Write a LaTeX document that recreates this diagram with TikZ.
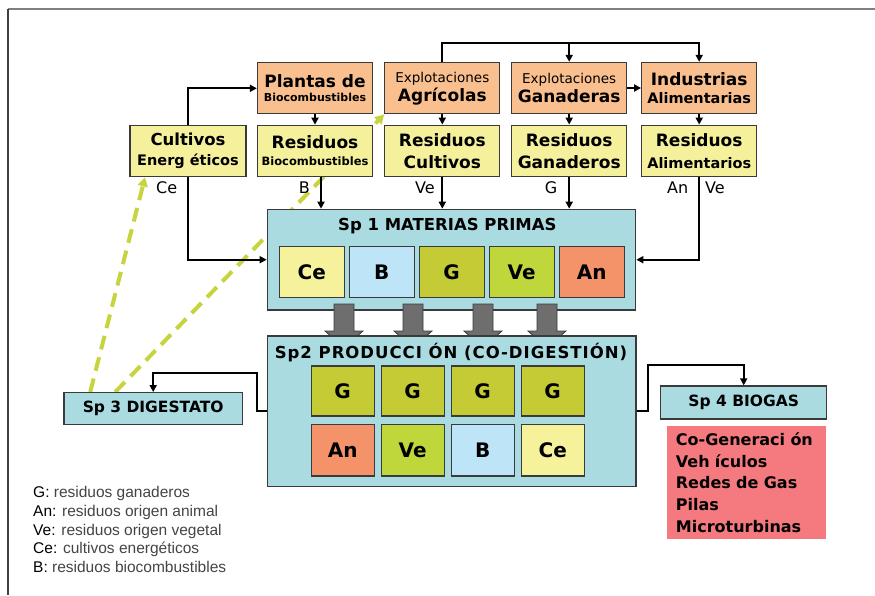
\documentclass[tikz,border=0pt]{standalone}
\usepackage{fontspec}
\setmainfont{DejaVu Sans}
\newfontfamily\legendfont{Liberation Sans}
\usetikzlibrary{arrows.meta,backgrounds}
\newcommand\fsz[1]{\fontsize{#1}{#1}\selectfont}
\definecolor{peach}{HTML}{F9BF8E}
\definecolor{resyellow}{HTML}{F5F09C}
\definecolor{stagecyan}{HTML}{A9DBE1}
\definecolor{boxline}{HTML}{3A3A3A}
\definecolor{cellce}{HTML}{F6F19B}
\definecolor{cellb}{HTML}{BEE4F7}
\definecolor{cellg}{HTML}{C4CB34}
\definecolor{cellve}{HTML}{BFD73A}
\definecolor{cellan}{HTML}{F4936A}
\definecolor{usesred}{HTML}{F47A7F}
\definecolor{dashgreen}{HTML}{C8D43E}
\definecolor{blockgray}{HTML}{6E6E6E}
\definecolor{legendgray}{HTML}{444444}
\begin{document}
\begin{tikzpicture}[x=1pt, y=-1pt,
  box/.style={draw=boxline, line width=1.3pt, inner sep=0pt, align=center,
    font=\bfseries\fontsize{12}{20}\selectfont},
  srcbox/.style={box, fill=peach, minimum width=115pt, minimum height=51pt},
  resbox/.style={box, fill=resyellow, minimum width=115pt, minimum height=51.5pt},
  stage/.style={box, fill=stagecyan},
  cell/.style={box, minimum width=65pt, minimum height=51pt, font=\bfseries\fsz{20}},
  stagetitle/.style={font=\bfseries\fsz{16.5}, inner sep=0pt, anchor=base},
  tag/.style={font=\fsz{16}, inner sep=0pt},
  conn/.style={line width=1.9pt, -{Triangle[length=7pt,width=7pt]}},
  recirc/.style={draw=dashgreen, line width=4pt, dash pattern=on 14pt off 8pt,
    -{Triangle[length=9pt,width=10pt]}},
  blockarrow/.style={fill=blockgray, draw=boxline, line width=0.8pt},
  legend/.style={font=\legendfont\fsz{15.5}, text=legendgray, inner sep=0pt, anchor=base west}
]
\useasboundingbox (0,0) rectangle (875,595);
% frame
\draw[line width=1.5pt, gray] (8,9) -- (875,9);
\draw[line width=1.5pt, black!75] (8,9) -- (8,595);

% sources
\node[srcbox] (plantas) at (315,88.3) {{\fsz{17}Plantas de}\\[-6pt]{\fsz{11}Biocombustibles}};
\node[srcbox] (agric) at (442.3,88.3) {{\mdseries\fsz{13.5}Explotaciones}\\[-1pt]{\fsz{17}Agrícolas}};
\node[srcbox] (ganad) at (569.2,88) {{\mdseries\fsz{13.5}Explotaciones}\\[-1pt]{\fsz{17}Ganaderas}};
\node[srcbox] (indus) at (699.2,88) {{\fsz{17}Industrias}\\[-2pt]{\fsz{14.5}Alimentarias}};

% residues
\node[resbox, minimum width=116pt] (cultiv) at (188,151) {{\fsz{16.5}Cultivos}\\{\fsz{14.5}Energ éticos}};
\node[resbox] (resbio) at (315,151) {{\fsz{17}Residuos}\\[-3pt]{\fsz{11.5}Biocombustibles}};
\node[resbox] (rescul) at (442.3,151) {{\fsz{17}Residuos}\\[2pt]{\fsz{17}Cultivos}};
\node[resbox] (resgan) at (569.2,151) {{\fsz{17}Residuos}\\[2pt]{\fsz{17}Ganaderos}};
\node[resbox] (resali) at (699.2,151) {{\fsz{17}Residuos}\\[2pt]{\fsz{14.5}Alimentarios}};

\node[tag] (tagce) at (166.7,187.5) {Ce};
\node[tag] (tagb) at (304.3,187.5) {B};
\node[tag] (tagve) at (425,187.5) {Ve};
\node[tag] (tagg) at (551,187.5) {G};
\node[tag] (tagan) at (677.7,187.5) {An};
\node[tag] (tagve2) at (715,187.5) {Ve};

% Sp 1
\node[stage, minimum width=368.4pt, minimum height=100.7pt] (sp1) at (451.5,259.7) {};
\node[stagetitle] (sp1title) at (447.3,230) {Sp 1 MATERIAS PRIMAS};
\foreach \i/\t/\c in {0/Ce/cellce,1/B/cellb,2/G/cellg,3/Ve/cellve,4/An/cellan}
  \node[cell, fill=\c] (mp\i) at (311.7+\i*70,272.2) {\t};

% block arrows Sp1 -> Sp2
\foreach \x in {344,413,483,547}
  \filldraw[blockarrow] (\x-10,304) -- (\x+10,304) -- (\x+10,331) -- (\x+19,331)
    -- (\x,348) -- (\x-19,331) -- (\x-10,331) -- cycle;

% Sp 2
\node[stage, minimum width=368.7pt, minimum height=150.7pt] (sp2) at (451.7,411.3) {};
\node[stagetitle] (sp2title) at (451,358.3) {\addfontfeature{LetterSpace=6}Sp2 PRODUCCI ÓN (CO-DIGESTIÓN)};
\foreach \i in {0,...,3}
  \node[cell, minimum width=63pt, minimum height=50pt, fill=cellg] (pg\i) at (342.7+\i*70,391) {G};
\foreach \i/\t/\c in {0/An/cellan,1/Ve/cellve,2/B/cellb,3/Ce/cellce}
  \node[cell, minimum width=63pt, minimum height=51.5pt, fill=\c] (pm\i) at (342.7+\i*70,450.2) {\t};

% Sp 3 and Sp 4
\node[stage, minimum width=178.3pt, minimum height=31.6pt, font=\bfseries\fsz{15.5}] (sp3) at (153.2,408.5) {Sp 3 DIGESTATO};
\node[stage, minimum width=166pt, minimum height=33pt, font=\bfseries\fsz{15.5}] (sp4) at (743.7,402.5) {Sp 4 BIOGAS};
\node[fill=usesred, anchor=north west, align=left, text width=141pt, inner xsep=9pt,
  minimum height=113.3pt, font=\bfseries\fontsize{16}{21.7}\selectfont] (usos) at (666.7,425.7)
  {Co-Generaci ón\\Veh ículos\\Redes de Gas\\Pilas\\Microturbinas};

% connectors
\coordinate (topbar) at (699.2,42.7);
\draw[conn] (agric.north) |- (topbar) -- (indus.north);
\draw[conn] (ganad.north |- topbar) -- (ganad.north);
\draw[conn] (ganad.east) -- (indus.west);
\draw[conn] (cultiv.north) |- (plantas.west);
\foreach \a/\b in {plantas/resbio,agric/rescul,ganad/resgan,indus/resali}
  \draw[conn] (\a.south) -- (\b.north);
\draw[conn] ([xshift=6pt]resbio.south) -- ([xshift=6pt]resbio.south |- sp1.north);
\draw[conn] (rescul.south) -- (rescul.south |- sp1.north);
\draw[conn] (resgan.south) -- (resgan.south |- sp1.north);
\draw[conn] (cultiv.south) |- (sp1.west);
\draw[conn] (resali.south) |- (sp1.east);
\coordinate (digbend) at (257.3,372.7);
\draw[conn] (sp2.west) -| (digbend) -| (sp3.north);
\coordinate (gasbend) at (648.3,365);
\draw[conn] (sp2.east) -| (gasbend) -| (sp4.north);

% recirculation of digestate
\begin{scope}[on background layer]
\draw[recirc] ([xshift=-63pt]sp3.north) -- ([xshift=-43pt]cultiv.south);
\draw[recirc] ([xshift=-38pt]sp3.north) -- (agric.south west);
\end{scope}

% legend
\foreach \k/\t [count=\n from 0] in {G/residuos ganaderos,An/residuos origen animal,
    Ve/residuos origen vegetal,Ce/cultivos energéticos,B/residuos biocombustibles}
  \node[legend] (ley\n) at (33,497.7+\n*18.75) {\textcolor{black}{\k:} \t};
\end{tikzpicture}
\end{document}
